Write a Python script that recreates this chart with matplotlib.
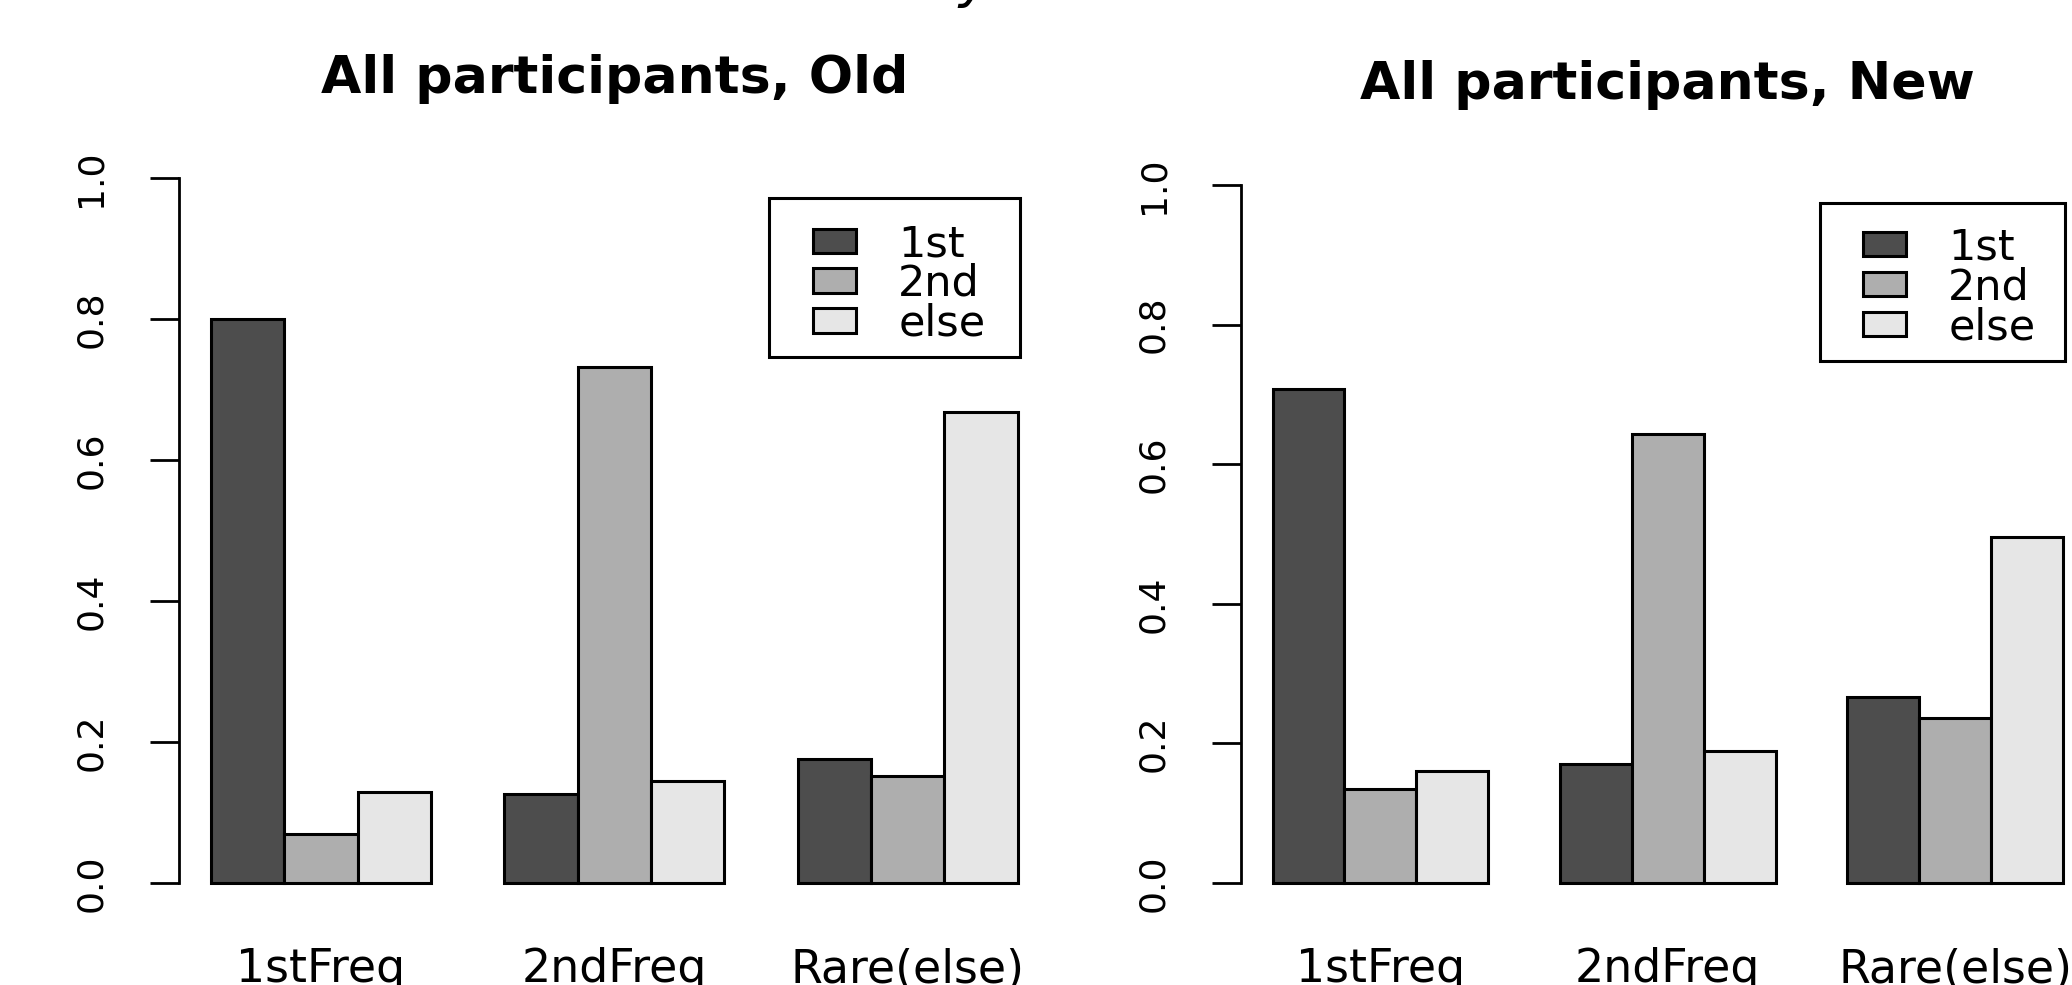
import matplotlib
matplotlib.use("Agg")
import matplotlib.pyplot as plt
from matplotlib.patches import Rectangle, Patch

# data
categories = ["1stFreq", "2ndFreq", "Rare(else)"]
series = ["1st", "2nd", "else"]
colors = ["#4D4D4D", "#AEAEAE", "#E6E6E6"]

old_1st = [0.800, 0.126, 0.176]
old_2nd = [0.069, 0.732, 0.152]
old_else = [0.129, 0.144, 0.668]

new_1st = [0.708, 0.170, 0.267]
new_2nd = [0.134, 0.644, 0.237]
new_else = [0.161, 0.189, 0.496]

yticks = [0.0, 0.2, 0.4, 0.6, 0.8, 1.0]

plt.rcParams["font.family"] = ["DejaVu Sans"]


def draw_panel(ax, values, title, title_pad, leg_anchor, frame_box):
    # R style beside barplot: bars width 1, one bar gap between groups
    for s, vals in enumerate(values):
        xs = [1.5 + 4 * g + s for g in range(len(categories))]
        ax.bar(xs, vals, width=1.0, color=colors[s], edgecolor="black",
               linewidth=2.2, label=series[s])

    ax.set_xlim(0.56, 12.44)
    ax.set_ylim(-0.04, 1.04)
    for side in ["top", "right", "bottom"]:
        ax.spines[side].set_visible(False)
    ax.spines["left"].set_bounds(0, 1)
    ax.spines["left"].set_linewidth(2.0)

    ax.set_yticks(yticks)
    ax.set_yticklabels([f"{t:.1f}" for t in yticks], rotation=90, va="center")
    ax.tick_params(axis="y", length=21, width=2.0, pad=30, labelsize=26)

    ax.set_xticks([2.5 + 4 * g for g in range(len(categories))])
    ax.set_xticklabels(categories)
    ax.tick_params(axis="x", length=0, pad=26, labelsize=33)

    ax.set_title(title, fontsize=37.5, fontweight="bold", pad=title_pad)

    handles = [Patch(facecolor=c, edgecolor="black", linewidth=2.2) for c in colors]
    ax.legend(handles, series, loc="upper left", bbox_to_anchor=leg_anchor,
              frameon=False, borderpad=0, borderaxespad=0, fontsize=31,
              handlelength=1.0, handleheight=0.5, handletextpad=0.98,
              labelspacing=-0.05)
    ax.add_patch(Rectangle(frame_box[:2], frame_box[2], frame_box[3],
                           transform=ax.transAxes, fill=False,
                           edgecolor="black", linewidth=2.2, clip_on=False))


fig = plt.figure(figsize=(20.72, 9.85), dpi=100)
ax1 = fig.add_axes([0.0862, 0.0751, 0.4206, 0.7726])
ax2 = fig.add_axes([0.5989, 0.0752, 0.4120, 0.7653])

draw_panel(ax1, [old_1st, old_2nd, old_else], "All participants, Old", 41,
           (0.728, 0.904), (0.6775, 0.728, 0.2881, 0.209))
draw_panel(ax2, [new_1st, new_2nd, new_else], "All participants, New", 42,
           (0.7287, 0.908), (0.6783, 0.7295, 0.287, 0.2095))

# tail of a caption cut off at the top edge of the source image
fig.text(975 / 2072, 1.0 + 3 / 985, "y", fontsize=40, style="italic",
         ha="center", va="baseline")

fig.savefig("out.png", dpi=100)
